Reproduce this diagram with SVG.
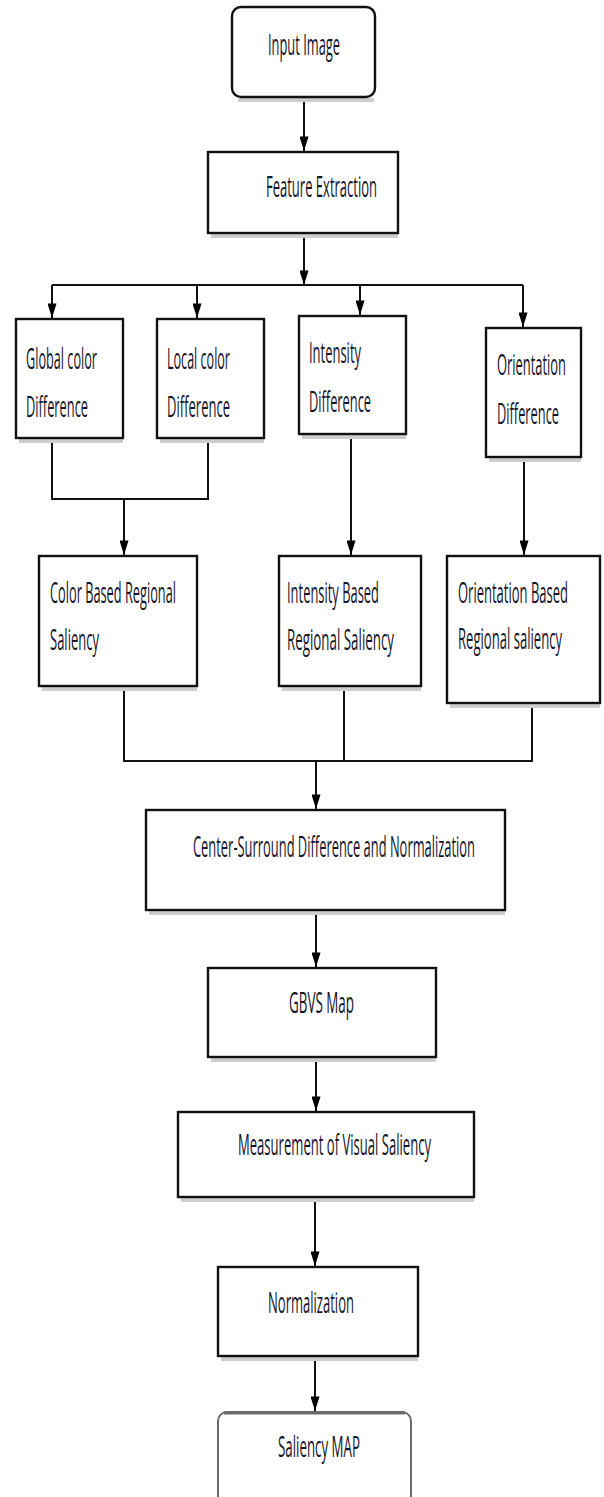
<svg xmlns="http://www.w3.org/2000/svg" width="604" height="1497" viewBox="0 0 604 1497">
<defs>
<marker id="ah" viewBox="0 0 16 10" markerWidth="16" markerHeight="9" refX="16" refY="5" orient="auto" markerUnits="userSpaceOnUse">
<path d="M0,0 L16,5 L0,10 z" fill="#000"/>
</marker>
</defs>
<style>
.box{fill:#fff;stroke:#111;stroke-width:2.4}
.sh{stroke:#cdcdcd;stroke-width:4;fill:none}
.t{font-family:"Open Sans","DejaVu Sans",sans-serif;font-size:30px;fill:#15152a}
.c{fill:none;stroke:#111;stroke-width:2}
.a{fill:none;stroke:#111;stroke-width:2;marker-end:url(#ah)}
</style>
<rect width="604" height="1497" fill="#fff"/>
<g id="connectors">
<line class="a" x1="304" y1="97" x2="304" y2="151"/>
<line class="a" x1="304" y1="233" x2="304" y2="285"/>
<polyline class="c" points="52,285 523,285"/>
<line class="a" x1="52" y1="285" x2="52" y2="318"/>
<line class="a" x1="197" y1="285" x2="197" y2="318"/>
<line class="a" x1="360" y1="285" x2="360" y2="315"/>
<line class="a" x1="523" y1="285" x2="523" y2="327"/>
<polyline class="c" points="52,438 52,499 208,499 208,438"/>
<line class="a" x1="124" y1="499" x2="124" y2="555"/>
<line class="a" x1="351" y1="434" x2="351" y2="555"/>
<line class="a" x1="524" y1="457" x2="524" y2="555"/>
<polyline class="c" points="124,686 124,761 532,761 532,703"/>
<line class="c" x1="344" y1="686" x2="344" y2="761"/>
<line class="a" x1="316" y1="761" x2="316" y2="809"/>
<line class="a" x1="316" y1="910" x2="316" y2="967"/>
<line class="a" x1="316" y1="1057" x2="316" y2="1111"/>
<line class="a" x1="315" y1="1197" x2="315" y2="1266"/>
<line class="a" x1="315" y1="1356" x2="315" y2="1411"/>
</g>
<g id="n-input">
<line class="sh" x1="238" y1="100" x2="374" y2="100"/>
<rect class="box" x="232" y="7" width="143" height="90" rx="9" stroke-width="3"/>
<text class="t" transform="translate(268,55) scale(0.4,1)" textLength="180" lengthAdjust="spacingAndGlyphs">Input Image</text>
</g>
<g id="n-feature">
<line class="sh" x1="211" y1="236" x2="398" y2="236"/>
<rect class="box" x="208" y="152" width="190" height="81"/>
<text class="t" transform="translate(266,197) scale(0.4,1)" textLength="277.5" lengthAdjust="spacingAndGlyphs">Feature Extraction</text>
</g>
<g id="n-global">
<line class="sh" x1="19" y1="441" x2="123" y2="441"/>
<rect class="box" x="16" y="319" width="107" height="119"/>
<text class="t" transform="translate(26,369) scale(0.4,1)" textLength="177.5" lengthAdjust="spacingAndGlyphs">Global color</text>
<text class="t" transform="translate(26,417) scale(0.4,1)" textLength="155" lengthAdjust="spacingAndGlyphs">Difference</text>
</g>
<g id="n-local">
<line class="sh" x1="160" y1="441" x2="264" y2="441"/>
<rect class="box" x="157" y="319" width="107" height="119"/>
<text class="t" transform="translate(167,369) scale(0.4,1)" textLength="157.5" lengthAdjust="spacingAndGlyphs">Local color</text>
<text class="t" transform="translate(167,417) scale(0.4,1)" textLength="157.5" lengthAdjust="spacingAndGlyphs">Difference</text>
</g>
<g id="n-intensity">
<line class="sh" x1="302" y1="437" x2="406" y2="437"/>
<rect class="box" x="299" y="316" width="107" height="118"/>
<text class="t" transform="translate(309,363) scale(0.4,1)" textLength="130" lengthAdjust="spacingAndGlyphs">Intensity</text>
<text class="t" transform="translate(309,412) scale(0.4,1)" textLength="155" lengthAdjust="spacingAndGlyphs">Difference</text>
</g>
<g id="n-orientation">
<line class="sh" x1="489" y1="460" x2="581" y2="460"/>
<rect class="box" x="486" y="328" width="95" height="129"/>
<text class="t" transform="translate(497,375) scale(0.4,1)" textLength="172.5" lengthAdjust="spacingAndGlyphs">Orientation</text>
<text class="t" transform="translate(497,424) scale(0.4,1)" textLength="155" lengthAdjust="spacingAndGlyphs">Difference</text>
</g>
<g id="n-color-based">
<line class="sh" x1="42" y1="689" x2="197" y2="689"/>
<rect class="box" x="39" y="556" width="158" height="130"/>
<text class="t" transform="translate(50,603) scale(0.4,1)" textLength="315" lengthAdjust="spacingAndGlyphs">Color Based Regional</text>
<text class="t" transform="translate(50,650) scale(0.4,1)" textLength="122.5" lengthAdjust="spacingAndGlyphs">Saliency</text>
</g>
<g id="n-intensity-based">
<line class="sh" x1="282" y1="689" x2="421" y2="689"/>
<rect class="box" x="279" y="556" width="142" height="130"/>
<text class="t" transform="translate(287,603) scale(0.4,1)" textLength="230" lengthAdjust="spacingAndGlyphs">Intensity Based</text>
<text class="t" transform="translate(287,650) scale(0.4,1)" textLength="267.5" lengthAdjust="spacingAndGlyphs">Regional Saliency</text>
</g>
<g id="n-orientation-based">
<line class="sh" x1="450" y1="706" x2="600" y2="706"/>
<rect class="box" x="447" y="556" width="153" height="147"/>
<text class="t" transform="translate(458,603) scale(0.4,1)" textLength="275" lengthAdjust="spacingAndGlyphs">Orientation Based</text>
<text class="t" transform="translate(458,649) scale(0.4,1)" textLength="260" lengthAdjust="spacingAndGlyphs">Regional saliency</text>
</g>
<g id="n-center">
<line class="sh" x1="149" y1="913" x2="505" y2="913"/>
<rect class="box" x="146" y="810" width="359" height="100"/>
<text class="t" transform="translate(193,857) scale(0.4,1)" textLength="705" lengthAdjust="spacingAndGlyphs">Center-Surround Difference and Normalization</text>
</g>
<g id="n-gbvs">
<line class="sh" x1="211" y1="1060" x2="436" y2="1060"/>
<rect class="box" x="208" y="968" width="228" height="89"/>
<text class="t" transform="translate(289,1013) scale(0.4,1)" textLength="162.5" lengthAdjust="spacingAndGlyphs">GBVS Map</text>
</g>
<g id="n-measurement">
<line class="sh" x1="181" y1="1200" x2="474" y2="1200"/>
<rect class="box" x="178" y="1112" width="296" height="85"/>
<text class="t" transform="translate(238,1155) scale(0.4,1)" textLength="482.5" lengthAdjust="spacingAndGlyphs">Measurement of Visual Saliency</text>
</g>
<g id="n-normalization">
<line class="sh" x1="221" y1="1359" x2="418" y2="1359"/>
<rect class="box" x="218" y="1267" width="200" height="89"/>
<text class="t" transform="translate(268,1313) scale(0.4,1)" textLength="215" lengthAdjust="spacingAndGlyphs">Normalization</text>
</g>
<g id="n-saliency">
<rect x="218" y="1412" width="193" height="110" rx="9" fill="#fff" stroke="#6a6a6a" stroke-width="2"/>
<line x1="224" y1="1413" x2="405" y2="1413" stroke="#6a6a6a" stroke-width="3"/>
<text class="t" transform="translate(278,1457) scale(0.4,1)" textLength="205" lengthAdjust="spacingAndGlyphs">Saliency MAP</text>
</g>
</svg>
